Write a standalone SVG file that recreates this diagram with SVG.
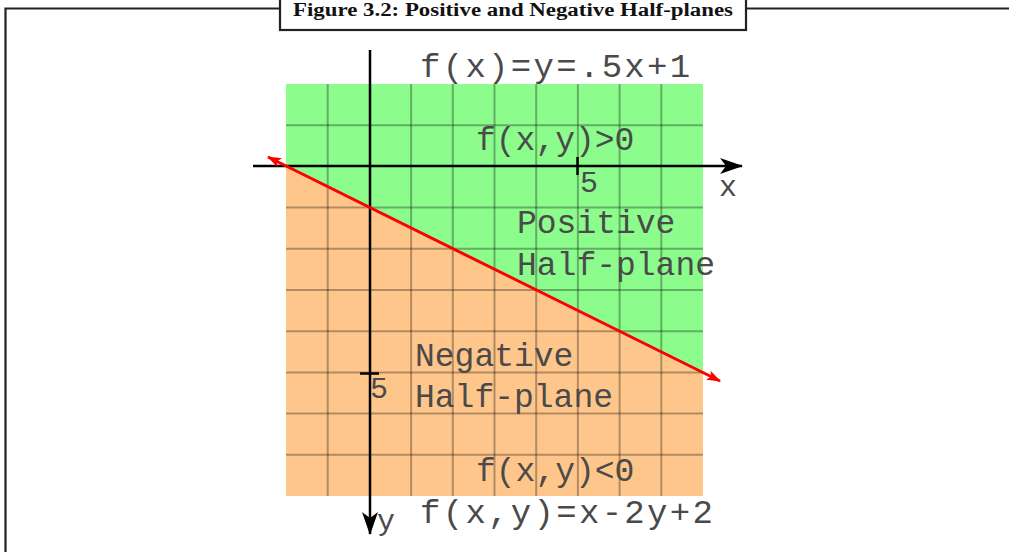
<svg xmlns="http://www.w3.org/2000/svg" width="1009" height="552" viewBox="0 0 1009 552">
<defs>
<style>
.frame{fill:none;stroke:#222;stroke-width:2.2}
.grid{stroke:#000;stroke-opacity:0.3;stroke-width:2;fill:none}
.axis{stroke:#000;stroke-width:2.5;fill:none}
.lbl{font-family:"Liberation Mono","DejaVu Sans Mono",monospace;font-size:33px;fill:#4a4a4a}
.big{font-family:"Liberation Mono","DejaVu Sans Mono",monospace;font-size:34px;letter-spacing:2.3px;fill:#4a4a4a}
.title{font-family:"Liberation Serif","Times New Roman",serif;font-size:18px;font-weight:bold;fill:#111}
</style>
<marker id="blk" viewBox="0 0 24 16" refX="22" refY="8" markerWidth="24" markerHeight="16" markerUnits="userSpaceOnUse" orient="auto">
<path d="M0,0 L23,8 L0,16 L6,8 Z" fill="#000"/>
</marker>
<marker id="red" viewBox="0 0 14 10" refX="13" refY="5" markerWidth="14" markerHeight="10" markerUnits="userSpaceOnUse" orient="auto-start-reverse">
<path d="M0,0 L14,5 L0,10 L3,5 Z" fill="#f00"/>
</marker>
</defs>
<rect width="1009" height="552" fill="#fff"/>
<g id="frame">
<path class="frame" d="M5.5,553 L5.5,8.5 L280,8.5 M746,8.5 L1010,8.5"/>
<rect class="frame" x="280" y="-3" width="466" height="33" fill="#fff"/>
<text class="title" x="513" y="16" text-anchor="middle" textLength="440" lengthAdjust="spacingAndGlyphs">Figure 3.2: Positive and Negative Half-planes</text>
</g>
<g id="regions">
<polygon points="286,84 703,84 703,374.5 286,166" fill="#8cfc8c"/>
<polygon points="286,166 703,374.5 703,496 286,496" fill="#ffc68c"/>
</g>
<g id="grid" class="grid">
<path d="M327.7,84V496 M411.1,84V496 M452.8,84V496 M494.5,84V496 M536.2,84V496 M577.9,84V496 M619.6,84V496 M661.3,84V496"/>
<path d="M286,125.2H703 M286,207.6H703 M286,248.8H703 M286,290H703 M286,331.2H703 M286,372.4H703 M286,413.6H703 M286,454.8H703"/>
</g>
<g id="connectors">
<line class="axis" x1="253" y1="166" x2="742" y2="166" marker-end="url(#blk)"/>
<line class="axis" x1="370" y1="50" x2="370" y2="534" marker-end="url(#blk)"/>
<line class="axis" x1="577.5" y1="157" x2="577.5" y2="175"/>
<line class="axis" x1="360" y1="373.5" x2="379" y2="373.5"/>
<line x1="268" y1="157" x2="720" y2="381" stroke="#f00" stroke-width="3" marker-start="url(#red)" marker-end="url(#red)"/>
</g>
<g id="labels">
<text class="big" x="420" y="77">f(x)=y=.5x+1</text>
<text class="big" x="420" y="523">f(x,y)=x-2y+2</text>
<text class="lbl" x="476" y="150">f(x,y)&gt;0</text>
<text class="lbl" x="517" y="233">Positive</text>
<text class="lbl" x="517" y="275">Half-plane</text>
<text class="lbl" x="415" y="366">Negative</text>
<text class="lbl" x="415" y="407">Half-plane</text>
<text class="lbl" x="476" y="481">f(x,y)&lt;0</text>
<text class="lbl" x="580" y="192" style="font-size:30px">5</text>
<text class="lbl" x="719" y="196" style="font-size:30px">x</text>
<text class="lbl" x="370" y="398" style="font-size:30px">5</text>
<text class="lbl" x="377" y="530" style="font-size:30px">y</text>
</g>
</svg>
